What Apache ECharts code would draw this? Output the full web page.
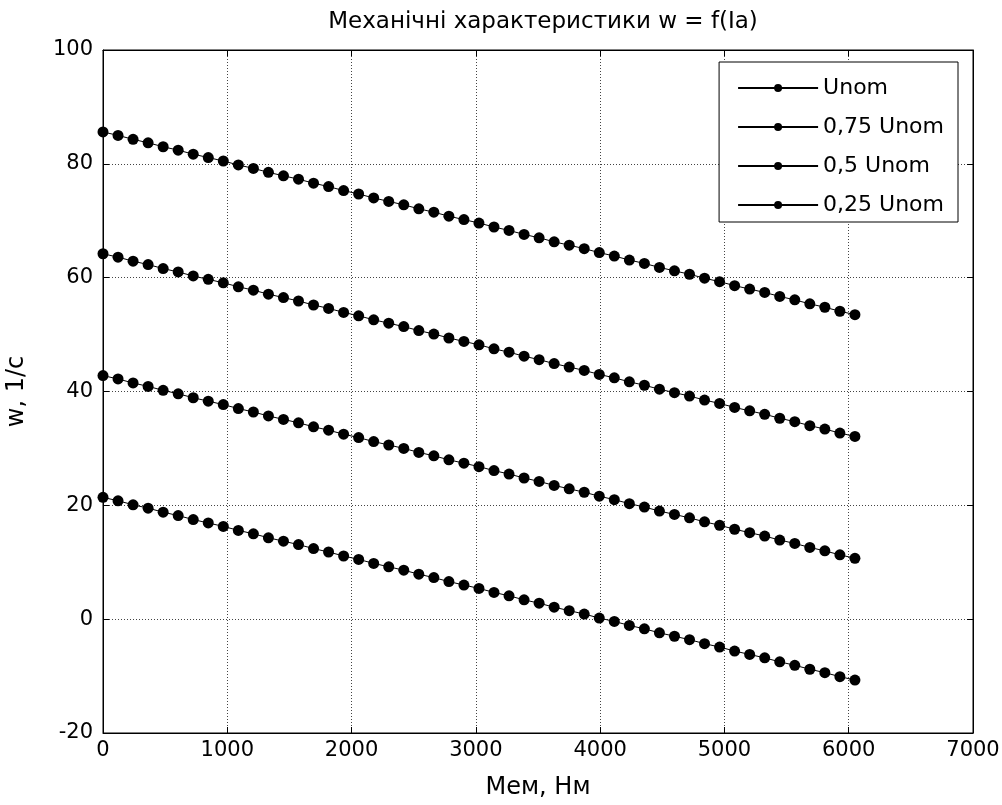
<!DOCTYPE html>
<html>
<head>
<meta charset="utf-8">
<script src="https://cdn.jsdelivr.net/npm/echarts@6/dist/echarts.min.js"></script>
<style>
  html, body { margin: 0; padding: 0; background: #fff; }
  #chart { width: 1002px; height: 805px; }
</style>
</head>
<body>
<div id="chart"></div>
<script>
// moment M, Nm
const torque = [0, 121, 242, 363, 484, 605, 726, 847, 968, 1089, 1210, 1331, 1452, 1573, 1694, 1815, 1936, 2057, 2178, 2299, 2420, 2541, 2662, 2783, 2904, 3025, 3146, 3267, 3388, 3509, 3630, 3751, 3872, 3993, 4114, 4235, 4356, 4477, 4598, 4719, 4840, 4961, 5082, 5203, 5324, 5445, 5566, 5687, 5808, 5929, 6050];

const wNom = [85.6, 85.0, 84.3, 83.7, 83.0, 82.4, 81.7, 81.1, 80.5, 79.8, 79.2, 78.5, 77.9, 77.3, 76.6, 76.0, 75.3, 74.7, 74.0, 73.4, 72.8, 72.1, 71.5, 70.8, 70.2, 69.6, 68.9, 68.3, 67.6, 67.0, 66.3, 65.7, 65.1, 64.4, 63.8, 63.1, 62.5, 61.8, 61.2, 60.6, 59.9, 59.3, 58.6, 58.0, 57.4, 56.7, 56.1, 55.4, 54.8, 54.1, 53.5];
const w075 = [64.2, 63.6, 62.9, 62.3, 61.6, 61.0, 60.3, 59.7, 59.1, 58.4, 57.8, 57.1, 56.5, 55.9, 55.2, 54.6, 53.9, 53.3, 52.6, 52.0, 51.4, 50.7, 50.1, 49.4, 48.8, 48.2, 47.5, 46.9, 46.2, 45.6, 44.9, 44.3, 43.7, 43.0, 42.4, 41.7, 41.1, 40.4, 39.8, 39.2, 38.5, 37.9, 37.2, 36.6, 36.0, 35.3, 34.7, 34.0, 33.4, 32.7, 32.1];
const w050 = [42.8, 42.2, 41.5, 40.9, 40.2, 39.6, 38.9, 38.3, 37.7, 37.0, 36.4, 35.7, 35.1, 34.5, 33.8, 33.2, 32.5, 31.9, 31.2, 30.6, 30.0, 29.3, 28.7, 28.0, 27.4, 26.8, 26.1, 25.5, 24.8, 24.2, 23.5, 22.9, 22.3, 21.6, 21.0, 20.3, 19.7, 19.0, 18.4, 17.8, 17.1, 16.5, 15.8, 15.2, 14.6, 13.9, 13.3, 12.6, 12.0, 11.3, 10.7];
const w025 = [21.4, 20.8, 20.1, 19.5, 18.8, 18.2, 17.5, 16.9, 16.3, 15.6, 15.0, 14.3, 13.7, 13.1, 12.4, 11.8, 11.1, 10.5, 9.8, 9.2, 8.6, 7.9, 7.3, 6.6, 6.0, 5.4, 4.7, 4.1, 3.4, 2.8, 2.1, 1.5, 0.9, 0.2, -0.4, -1.1, -1.7, -2.4, -3.0, -3.6, -4.3, -4.9, -5.6, -6.2, -6.8, -7.5, -8.1, -8.8, -9.4, -10.1, -10.7];

const seriesNames = ['Unom', '0,75 Unom', '0,5 Unom', '0,25 Unom'];
const seriesValues = [wNom, w075, w050, w025];

const font = '"DejaVu Sans", sans-serif';
const chart = echarts.init(document.getElementById('chart'));

const gridLine = { show: true, lineStyle: { color: '#444', type: [1, 2], width: 1 } };
const tick = { show: true, inside: true, length: 6, lineStyle: { color: '#000' } };
const plain = v => String(v);

const option = {
  backgroundColor: '#fff',
  animation: false,
  textStyle: { fontFamily: font, color: '#000' },
  title: {
    text: 'Механічні характеристики w = f(Ia)',
    left: 538,
    textAlign: 'center',
    top: 6,
    textStyle: { fontFamily: font, fontSize: 23, fontWeight: 'normal', color: '#000' }
  },
  grid: {
    left: 103, top: 50, width: 870, height: 683,
    outerBoundsMode: 'none',
    show: true, borderColor: '#000', borderWidth: 1
  },
  legend: {
    orient: 'vertical',
    right: 44,
    top: 62,
    data: seriesNames,
    backgroundColor: '#fff',
    borderColor: '#000',
    borderWidth: 1,
    padding: [15, 14, 6, 18],
    itemGap: 17,
    itemWidth: 80,
    itemHeight: 10,
    textStyle: { fontFamily: font, fontSize: 22, color: '#000' }
  },
  xAxis: [
    {
      type: 'value', min: 0, max: 7000, interval: 1000,
      name: 'Мем, Нм', nameLocation: 'middle', nameGap: 43,
      nameTextStyle: { fontFamily: font, fontSize: 24, color: '#000' },
      axisLine: { show: true, onZero: false, lineStyle: { color: '#000' } },
      axisTick: tick,
      axisLabel: { fontFamily: font, fontSize: 21, color: '#000', margin: 7, formatter: plain },
      splitLine: gridLine
    },
    {
      type: 'value', min: 0, max: 7000, interval: 1000, position: 'top',
      axisLine: { show: true, onZero: false, lineStyle: { color: '#000' } },
      axisTick: tick,
      axisLabel: { show: false },
      splitLine: { show: false }
    }
  ],
  yAxis: [
    {
      type: 'value', min: -20, max: 100, interval: 20,
      name: 'w, 1/c', nameLocation: 'middle', nameGap: 74,
      nameTextStyle: { fontFamily: font, fontSize: 24, color: '#000' },
      axisLine: { show: true, onZero: false, lineStyle: { color: '#000' } },
      axisTick: tick,
      axisLabel: { fontFamily: font, fontSize: 21, color: '#000', margin: 10, formatter: plain },
      splitLine: gridLine
    },
    {
      type: 'value', min: -20, max: 100, interval: 20, position: 'right',
      axisLine: { show: true, onZero: false, lineStyle: { color: '#000' } },
      axisTick: tick,
      axisLabel: { show: false },
      splitLine: { show: false }
    }
  ],
  series: seriesNames.map((name, k) => ({
    name: name,
    type: 'line',
    xAxisIndex: 0,
    yAxisIndex: 0,
    data: torque.map((m, i) => [m, seriesValues[k][i]]),
    symbol: 'circle',
    symbolSize: 11,
    showSymbol: true,
    lineStyle: { color: '#000', width: 1 },
    itemStyle: { color: '#000' },
    emphasis: { disabled: true }
  }))
};

chart.setOption(option);
</script>
</body>
</html>
